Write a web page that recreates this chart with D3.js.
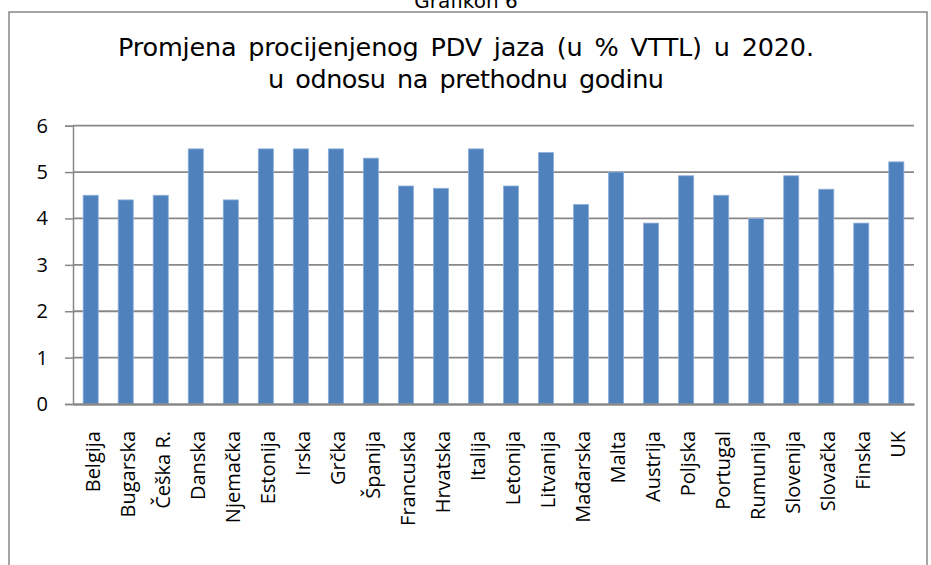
<!DOCTYPE html>
<html><head><meta charset="utf-8">
<script src="https://cdn.jsdelivr.net/npm/d3@7"></script>
<style>body{margin:0;background:#fff}svg{display:block}</style>
</head><body>
<script>
const categories = ["Belgija","Bugarska","Češka R.","Danska","Njemačka","Estonija","Irska","Grčka","Španija","Francuska","Hrvatska","Italija","Letonija","Litvanija","Mađarska","Malta","Austrija","Poljska","Portugal","Rumunija","Slovenija","Slovačka","Finska","UK"];
const values = [4.5,4.4,4.5,5.5,4.4,5.5,5.5,5.5,5.3,4.7,4.65,5.5,4.7,5.42,4.3,5.0,3.9,4.92,4.5,4.0,4.92,4.63,3.9,5.22];
const yTicks = [0,1,2,3,4,5,6];
const titleLines = ["Promjena procijenjenog PDV jaza (u % VTTL) u 2020.","u odnosu na prethodnu godinu"];
const caption = "Grafikon 6";

(function(){
const W = 931, H = 565;
const svg = d3.select("body").append("svg").attr("width", W).attr("height", H);
const pLeft = 73, pRight = 914, pTop = 125.7, pBottom = 404;

svg.append("text").attr("x", 466).attr("y", 8).attr("text-anchor","middle")
  .attr("font-family","DejaVu Sans").attr("font-size",20).attr("fill","#000").text(caption);
svg.append("rect").attr("x",9).attr("y",12).attr("width",918).attr("height",570)
  .attr("fill","#fff").attr("stroke","#888").attr("stroke-width",1.5);

const tLens = [696, 396];
titleLines.forEach((t,i)=>{
  svg.append("text").attr("x",466).attr("y",56+i*32).attr("text-anchor","middle")
    .attr("font-family","DejaVu Sans").attr("font-size",25.5).attr("word-spacing",4)
    .attr("textLength",tLens[i]).attr("lengthAdjust","spacing")
    .attr("fill","#000").text(t);
});

const x = d3.scaleBand().domain(categories).range([pLeft,pRight]).paddingInner(0.57).paddingOuter(0.29);
const y = d3.scaleLinear().domain([0,6]).range([pBottom,pTop]);

const gy = svg.append("g").attr("transform",`translate(${pLeft},0)`)
  .call(d3.axisLeft(y).tickValues(yTicks).tickSize(8).tickPadding(17).tickFormat(d3.format("d")));
gy.select(".domain").attr("stroke","#888").attr("stroke-width",1.5);
gy.selectAll(".tick line").attr("stroke","#888").attr("stroke-width",1.5);
gy.selectAll(".tick text").attr("font-family","Open Sans").attr("font-size",20).attr("fill","#000");

svg.append("g").selectAll("line").data(yTicks.filter(d=>d>0)).join("line")
  .attr("x1",pLeft).attr("x2",pRight).attr("y1",d=>y(d)).attr("y2",d=>y(d))
  .attr("stroke","#888").attr("stroke-width",1.8);

svg.append("g").selectAll("rect").data(values).join("rect")
  .attr("x",(d,i)=>x(categories[i])).attr("width",x.bandwidth())
  .attr("y",d=>y(d)).attr("height",d=>y(0)-y(d))
  .attr("fill","#4f81bd").attr("stroke","#8eaedb").attr("stroke-width",0.8);

const gx = svg.append("g").attr("transform",`translate(0,${pBottom})`)
  .call(d3.axisBottom(x).tickSize(0).tickPadding(0));
gx.select(".domain").attr("stroke","#888").attr("stroke-width",2.5);
gx.selectAll(".tick text").attr("font-family","Open Sans").attr("font-size",20).attr("fill","#000")
  .attr("text-anchor","end").attr("y",0).attr("dy","0.35em")
  .attr("transform","translate(2,27) rotate(-90)");
})();
</script>
</body></html>
